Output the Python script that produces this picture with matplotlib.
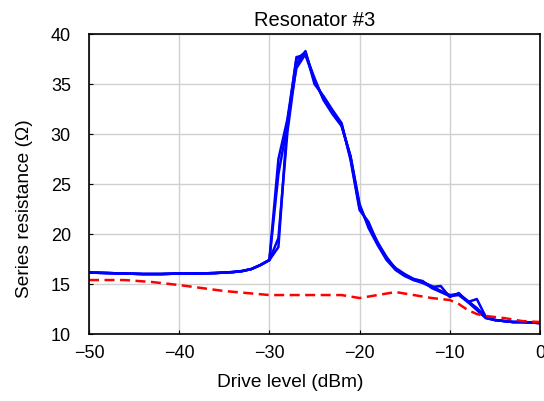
import numpy as np
import matplotlib.pyplot as plt

plt.rcParams['font.family'] = ['Liberation Sans', 'DejaVu Sans']

drive = [-50, -48, -46, -44, -42, -40, -38, -36, -34, -33, -32, -31, -30,
         -29, -28, -27, -26, -25, -24, -23, -22, -21, -20, -19, -18, -17,
         -16, -15, -14, -13, -12, -11, -10, -9, -8, -7, -6, -5, -4, -3, -2, -1, 0]

base = [16.15, 16.1, 16.05, 16.0, 16.0, 16.05, 16.05, 16.1, 16.2, 16.3, 16.5, 16.9, 17.4]

sweep1 = base + [27.5, 31.5, 37.5, 38.2, 35.3, 33.6, 32.2, 31.0, 27.6, 22.6, 21.0, 19.2, 17.6,
                 16.5, 15.9, 15.5, 15.2, 14.8, 14.3, 13.8, 14.0, 13.3, 12.5, 11.6, 11.4, 11.3,
                 11.2, 11.2, 11.15, 11.1]
sweep2 = base + [18.7, 31.3, 36.6, 38.0, 35.6, 33.4, 32.0, 30.8, 27.8, 23.0, 20.6, 18.9, 17.4,
                 16.4, 15.8, 15.4, 15.1, 14.7, 14.8, 13.7, 14.1, 13.2, 13.5, 11.7, 11.4, 11.3,
                 11.2, 11.2, 11.15, 11.1]
sweep3 = base + [19.6, 30.2, 37.0, 38.3, 35.0, 33.8, 32.4, 31.1, 27.4, 22.4, 21.2, 19.0, 17.5,
                 16.6, 16.0, 15.5, 15.3, 14.6, 14.2, 13.8, 13.9, 13.2, 12.4, 11.6, 11.4, 11.3,
                 11.2, 11.2, 11.15, 11.1]
sweep4 = base + [26.0, 31.0, 37.7, 37.9, 35.4, 33.5, 32.1, 30.9, 27.7, 22.8, 20.8, 19.1, 17.7,
                 16.5, 15.9, 15.4, 15.2, 14.7, 14.3, 13.9, 14.0, 13.3, 12.6, 11.7, 11.4, 11.3,
                 11.2, 11.2, 11.15, 11.1]

ref_x = [-50, -46, -43, -40, -35, -30, -25, -22, -20, -18, -16, -14, -12, -10, -9, -8, -7, -6,
         -4, -2, 0]
ref_y = [15.4, 15.4, 15.2, 14.9, 14.3, 13.9, 13.9, 13.9, 13.6, 13.9, 14.2, 13.9, 13.6, 13.4,
         13.0, 12.4, 12.0, 11.8, 11.6, 11.3, 11.2]

fig = plt.figure(figsize=(5.44, 4.01), dpi=100)
ax = fig.add_axes([0.1636, 0.167, 0.829, 0.748])

for s in [sweep1, sweep2, sweep3, sweep4]:
    ax.plot(drive, s, color='#0000ff', lw=1.8)
ax.plot(ref_x, ref_y, color='#ff0000', lw=1.8, ls=(0, (4, 2.2)))

ax.set_xlim(-50, 0)
ax.set_ylim(10, 40)
ax.set_xticks([-50, -40, -30, -20, -10, 0])
ax.set_xticklabels(['\u221250', '\u221240', '\u221230', '\u221220', '\u221210', '0'])
ax.set_yticks([10, 15, 20, 25, 30, 35, 40])
ax.grid(True, color='#d0d0d0', lw=1)
ax.set_axisbelow(True)
ax.tick_params(direction='in', length=3, labelsize=13)
ax.tick_params(axis='x', pad=8)
ax.tick_params(axis='y', pad=13)
for sp in ax.spines.values():
    sp.set_linewidth(1.2)

ax.set_title('Resonator #3', fontsize=14.5, pad=6)
ax.set_xlabel('Drive level (dBm)', fontsize=13.8, va='center')
ax.set_ylabel('Series resistance (\u03a9)', fontsize=13.8, va='center')
ax.xaxis.set_label_coords(0.446, -0.163)
ax.yaxis.set_label_coords(-0.144, 0.417)

fig.savefig('out.png', dpi=100)
